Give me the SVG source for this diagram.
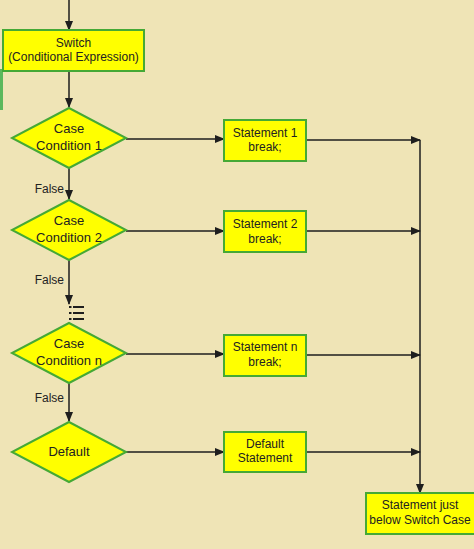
<svg xmlns="http://www.w3.org/2000/svg" width="474" height="549" viewBox="0 0 474 549">
<defs>
<marker id="arr" markerWidth="10" markerHeight="8" refX="9" refY="4" orient="auto" markerUnits="userSpaceOnUse">
<path d="M0,0 L10,4 L0,8 Z" fill="#1e1e1e"/>
</marker>
<style>
.box{fill:#ffff00;stroke:#45a935;stroke-width:2}
.t{font-family:"Liberation Sans",Arial,sans-serif;font-size:12px;fill:#222;text-anchor:middle}
.d{font-size:13px}
.lbl{font-family:"Liberation Sans",Arial,sans-serif;font-size:12px;fill:#222;text-anchor:end}
.c{stroke:#1e1e1e;stroke-width:1.5;fill:none}
.a{marker-end:url(#arr)}
</style>
</defs>
<rect x="0" y="0" width="474" height="549" fill="#efe4b6"/>
<line x1="1.5" y1="69" x2="1.5" y2="110" stroke="#5cb85c" stroke-width="3"/>

<g id="connectors">
<line class="c a" x1="69" y1="0" x2="69" y2="30"/>
<line class="c a" x1="69" y1="72" x2="69" y2="107"/>
<line class="c a" x1="69" y1="168" x2="69" y2="199"/>
<line class="c a" x1="69" y1="260" x2="69" y2="304"/>
<line class="c a" x1="69" y1="383" x2="69" y2="421"/>
<line class="c a" x1="126" y1="139" x2="224" y2="139"/>
<line class="c a" x1="126" y1="231" x2="224" y2="231"/>
<line class="c a" x1="126" y1="354" x2="224" y2="354"/>
<line class="c a" x1="126" y1="452" x2="224" y2="452"/>
<line class="c a" x1="306" y1="140" x2="420" y2="140"/>
<line class="c a" x1="306" y1="231" x2="420" y2="231"/>
<line class="c a" x1="306" y1="355" x2="420" y2="355"/>
<line class="c a" x1="306" y1="452" x2="420" y2="452"/>
<line class="c a" x1="420" y1="140" x2="420" y2="493"/>
<text class="lbl" x="64" y="193">False</text>
<text class="lbl" x="64" y="284">False</text>
<text class="lbl" x="64" y="402">False</text>
<g id="ellipsis" fill="#1e1e1e">
<rect x="69" y="306" width="2.5" height="2"/>
<rect x="69" y="312" width="2.5" height="2"/>
<rect x="69" y="318" width="2.5" height="2"/>
<rect x="73" y="306" width="11" height="2"/>
<rect x="73" y="312" width="11" height="2"/>
<rect x="73" y="318" width="11" height="2"/>
</g>
</g>

<g id="switch">
<rect class="box" x="3" y="30" width="141" height="41"/>
<text class="t" x="73.5" y="47">Switch</text>
<text class="t" x="73.5" y="61">(Conditional Expression)</text>
</g>

<g id="case1">
<polygon class="box" points="69,108 126,138 69,168 12,138"/>
<text class="t d" x="69" y="133">Case</text>
<text class="t d" x="69" y="150">Condition 1</text>
</g>
<g id="case2">
<polygon class="box" points="69,200 126,230 69,260 12,230"/>
<text class="t d" x="69" y="225">Case</text>
<text class="t d" x="69" y="242">Condition 2</text>
</g>
<g id="casen">
<polygon class="box" points="69,323 126,353 69,383 12,353"/>
<text class="t d" x="69" y="348">Case</text>
<text class="t d" x="69" y="365">Condition n</text>
</g>
<g id="default">
<polygon class="box" points="69,422 126,452 69,482 12,452"/>
<text class="t d" x="69" y="456">Default</text>
</g>

<g id="stmt1">
<rect class="box" x="224" y="120" width="82" height="41"/>
<text class="t" x="265" y="137">Statement 1</text>
<text class="t" x="265" y="151">break;</text>
</g>
<g id="stmt2">
<rect class="box" x="224" y="211" width="82" height="41"/>
<text class="t" x="265" y="228">Statement 2</text>
<text class="t" x="265" y="243">break;</text>
</g>
<g id="stmtn">
<rect class="box" x="224" y="335" width="82" height="41"/>
<text class="t" x="265" y="351">Statement n</text>
<text class="t" x="265" y="366">break;</text>
</g>
<g id="stmtdefault">
<rect class="box" x="224" y="432" width="82" height="40"/>
<text class="t" x="265" y="448">Default</text>
<text class="t" x="265" y="462">Statement</text>
</g>
<g id="after">
<rect class="box" x="366" y="493" width="112" height="41"/>
<text class="t" x="420" y="509">Statement just</text>
<text class="t" x="420" y="524">below Switch Case</text>
</g>
</svg>
